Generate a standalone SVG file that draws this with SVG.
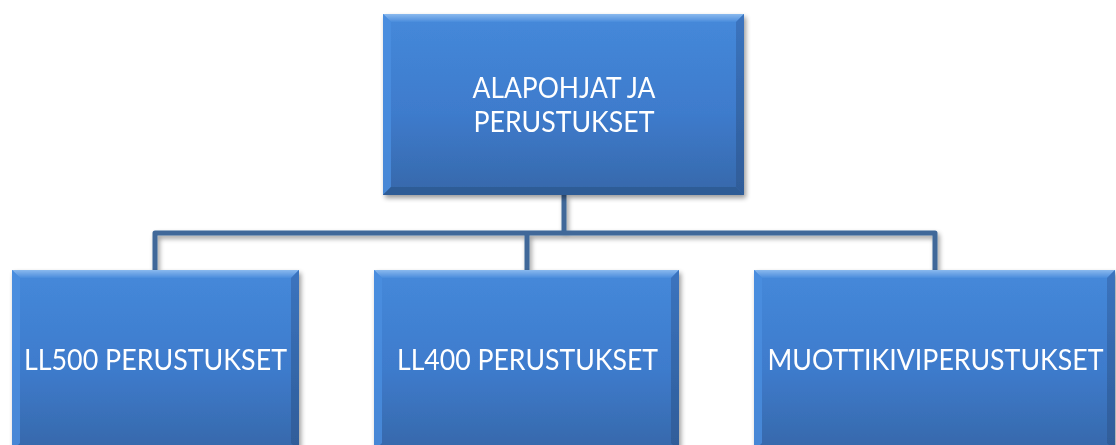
<svg xmlns="http://www.w3.org/2000/svg" width="1116" height="445" viewBox="0 0 1116 445">
  <defs>
    <linearGradient id="face" x1="0" y1="0" x2="0" y2="1">
      <stop offset="0" stop-color="#4589da"/>
      <stop offset="0.55" stop-color="#3e7bcc"/>
      <stop offset="1" stop-color="#3668aa"/>
    </linearGradient>
    <linearGradient id="bevelTop" x1="0" y1="0" x2="0" y2="1">
      <stop offset="0" stop-color="#8ab9ee"/>
      <stop offset="1" stop-color="#4a8cdc"/>
    </linearGradient>
    <linearGradient id="bevelRight" x1="0" y1="0" x2="0" y2="1">
      <stop offset="0" stop-color="#3b74bf"/>
      <stop offset="1" stop-color="#2f5c98"/>
    </linearGradient>
    <filter id="shadow" x="-5%" y="-5%" width="112%" height="115%">
      <feGaussianBlur in="SourceAlpha" stdDeviation="2.5"/>
      <feOffset dx="2" dy="3" result="b"/>
      <feComponentTransfer><feFuncA type="linear" slope="0.4"/></feComponentTransfer>
      <feMerge><feMergeNode/><feMergeNode in="SourceGraphic"/></feMerge>
    </filter>
  </defs>
  <style>
    .lbl { font-family: Lato, "Open Sans", "Liberation Sans", sans-serif; font-size: 28px; fill: #ffffff; text-anchor: middle; }
    .conn { fill: none; stroke: #3f6899; stroke-width: 5; stroke-linejoin: round; stroke-linecap: butt; }
    .face { fill: url(#face); }
    .bt { fill: url(#bevelTop); }
    .bl { fill: #4a8fe0; opacity: 0.8; }
    .br { fill: url(#bevelRight); }
    .bb { fill: #2e5b96; }
  </style>

  <g id="connectors" filter="url(#shadow)">
    <path class="conn" d="M564 195 V233"/>
    <path class="conn" d="M155 270 V233 H935 V270"/>
    <path class="conn" d="M527 233 V270"/>
  </g>

  <g id="node-root" filter="url(#shadow)">
    <rect class="face" x="383" y="14" width="361" height="181"/>
    <polygon class="bt" points="383,14 744,14 736,22 391,22"/>
    <polygon class="bl" points="383,14 391,22 391,187 383,195"/>
    <polygon class="br" points="744,14 744,195 736,187 736,22"/>
    <polygon class="bb" points="383,195 744,195 736,187 391,187"/>
    <text class="lbl" x="564" y="98" textLength="183" lengthAdjust="spacingAndGlyphs">ALAPOHJAT JA</text>
    <text class="lbl" x="564" y="132" textLength="181" lengthAdjust="spacingAndGlyphs">PERUSTUKSET</text>
  </g>

  <g id="node-ll500" filter="url(#shadow)">
    <rect class="face" x="12" y="270" width="287" height="181"/>
    <polygon class="bt" points="12,270 299,270 291,278 20,278"/>
    <polygon class="bl" points="12,270 20,278 20,443 12,451"/>
    <polygon class="br" points="299,270 299,451 291,443 291,278"/>
    <text class="lbl" x="155.5" y="370" textLength="263" lengthAdjust="spacingAndGlyphs">LL500 PERUSTUKSET</text>
  </g>

  <g id="node-ll400" filter="url(#shadow)">
    <rect class="face" x="374" y="270" width="305" height="181"/>
    <polygon class="bt" points="374,270 679,270 671,278 382,278"/>
    <polygon class="bl" points="374,270 382,278 382,443 374,451"/>
    <polygon class="br" points="679,270 679,451 671,443 671,278"/>
    <text class="lbl" x="527.5" y="370" textLength="261" lengthAdjust="spacingAndGlyphs">LL400 PERUSTUKSET</text>
  </g>

  <g id="node-muottikivi" filter="url(#shadow)">
    <rect class="face" x="754" y="270" width="361" height="181"/>
    <polygon class="bt" points="754,270 1115,270 1107,278 762,278"/>
    <polygon class="bl" points="754,270 762,278 762,443 754,451"/>
    <polygon class="br" points="1115,270 1115,451 1107,443 1107,278"/>
    <text class="lbl" x="935.5" y="370" textLength="336" lengthAdjust="spacingAndGlyphs">MUOTTIKIVIPERUSTUKSET</text>
  </g>
</svg>
